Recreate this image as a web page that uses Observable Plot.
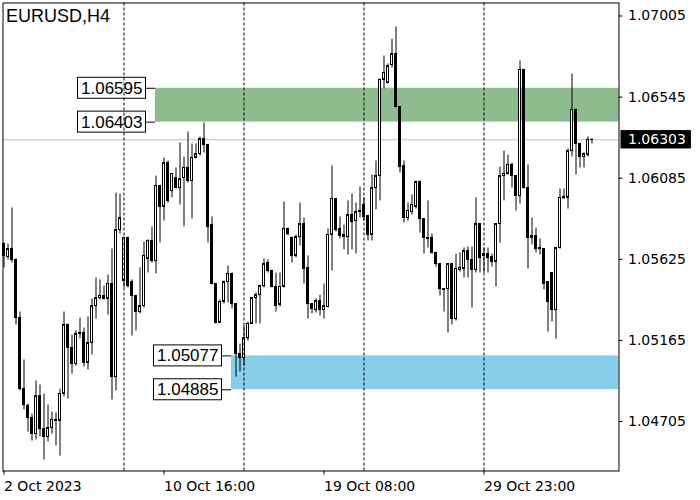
<!DOCTYPE html>
<html><head><meta charset="utf-8">
<script src="https://cdn.jsdelivr.net/npm/d3@7"></script>
<script src="https://cdn.jsdelivr.net/npm/@observablehq/plot@0.6"></script>
<style>html,body{margin:0;padding:0;background:#fff;} svg{display:block}</style>
</head><body><div id="chart"></div>
<script>
const symbol = "EURUSD,H4";
const open = [1.05712,1.05638,1.05683,1.05621,1.05292,1.04889,1.04793,1.04725,1.04634,1.04849,
1.04662,1.04617,1.04668,1.04714,1.04708,1.04861,1.05252,1.05122,1.05031,1.05201,
1.05207,1.05037,1.05150,1.05360,1.05405,1.05417,1.05400,1.05485,1.04957,1.05791,
1.05502,1.05746,1.05496,1.05417,1.05326,1.05360,1.05627,1.05729,1.05615,1.06041,
1.05922,1.06171,1.06012,1.06086,1.06029,1.06086,1.06143,1.06069,1.06200,1.06222,
1.06307,1.06273,1.05819,1.05485,1.05264,1.05383,1.05496,1.05542,1.05371,1.05088,
1.05065,1.05178,1.05258,1.05405,1.05422,1.05473,1.05604,1.05559,1.05468,1.05366,
1.05468,1.05797,1.05746,1.05644,1.05751,1.05825,1.05576,1.05371,1.05337,1.05388,
1.05337,1.05354,1.05763,1.05967,1.05797,1.05763,1.05751,1.05876,1.05842,1.05899,
1.05933,1.05870,1.05763,1.06029,1.06097,1.06642,1.06625,1.06727,1.06789,1.06489,
1.06154,1.05859,1.05893,1.05922,1.06063,1.05853,1.05746,1.05746,1.05661,1.05598,
1.05456,1.05456,1.05598,1.05286,1.05564,1.05570,1.05672,1.05621,1.05564,1.05825,
1.05644,1.05655,1.05638,1.05610,1.05825,1.06097,1.06109,1.06160,1.06097,1.05984,
1.06699,1.06029,1.05757,1.05757,1.05689,1.05683,1.05496,1.05547,1.05337,1.05689,
1.05970,1.05973,1.06239,1.06472,1.06279,1.06205,1.06217,1.06302];
const high = [1.05717,1.05712,1.05916,1.05627,1.05326,1.05054,1.04804,1.04747,1.04935,1.04912,
1.04861,1.04798,1.04759,1.04753,1.04889,1.05326,1.05258,1.05195,1.05218,1.05292,
1.05235,1.05298,1.05400,1.05519,1.05508,1.05473,1.05536,1.05683,1.06001,1.05995,
1.05750,1.05750,1.05508,1.05420,1.05576,1.05723,1.05735,1.05808,1.06097,1.06044,
1.06199,1.06183,1.06112,1.06143,1.06285,1.06205,1.06347,1.06279,1.06279,1.06319,
1.06398,1.06278,1.05865,1.05488,1.05394,1.05502,1.05587,1.05547,1.05374,1.05144,
1.05247,1.05269,1.05409,1.05434,1.05479,1.05627,1.05621,1.05562,1.05547,1.05547,
1.05950,1.05802,1.05751,1.05763,1.05944,1.05859,1.05644,1.05374,1.05400,1.05422,
1.05485,1.05797,1.06154,1.05970,1.05865,1.05819,1.05956,1.05995,1.05944,1.06035,
1.05973,1.05873,1.06103,1.06183,1.06648,1.06778,1.06733,1.06874,1.06943,1.06492,
1.06183,1.05944,1.05990,1.06069,1.06069,1.05856,1.05956,1.05768,1.05664,1.05601,
1.05459,1.05601,1.05601,1.05655,1.05661,1.05689,1.05695,1.05695,1.05973,1.05828,
1.05689,1.05689,1.05655,1.05828,1.06148,1.06239,1.06216,1.06171,1.06100,1.06750,
1.06702,1.06160,1.05859,1.05802,1.05740,1.05686,1.05499,1.05550,1.05692,1.06024,
1.06024,1.06251,1.06676,1.06477,1.06282,1.06228,1.06319,1.06307];
const low = [1.05576,1.05621,1.05604,1.05252,1.04878,1.04770,1.04645,1.04594,1.04600,1.04617,
1.04487,1.04589,1.04634,1.04566,1.04509,1.04844,1.04832,1.04974,1.05020,1.05173,
1.05014,1.04997,1.05082,1.05286,1.05394,1.05394,1.05309,1.04827,1.04878,1.05768,
1.05462,1.05462,1.05190,1.05218,1.05315,1.05349,1.05547,1.05604,1.05542,1.05717,
1.05842,1.05944,1.05973,1.06024,1.05933,1.05808,1.06058,1.05853,1.06194,1.06211,
1.06228,1.05717,1.05479,1.05258,1.05261,1.05371,1.05377,1.05343,1.04957,1.04986,
1.05020,1.05162,1.05255,1.05258,1.05258,1.05462,1.05547,1.05462,1.05326,1.05354,
1.05462,1.05757,1.05604,1.05632,1.05700,1.05485,1.05286,1.05315,1.05320,1.05303,
1.05286,1.05349,1.05559,1.05780,1.05740,1.05678,1.05649,1.05678,1.05655,1.05859,
1.05842,1.05729,1.05729,1.05905,1.05956,1.06591,1.06619,1.06710,1.06483,1.06114,
1.05831,1.05842,1.05876,1.05910,1.05774,1.05655,1.05689,1.05655,1.05581,1.05417,
1.05326,1.05207,1.05252,1.05275,1.05553,1.05519,1.05519,1.05349,1.05547,1.05547,
1.05547,1.05547,1.05581,1.05468,1.05717,1.05956,1.06103,1.06029,1.05899,1.05939,
1.06024,1.05570,1.05706,1.05661,1.05649,1.05451,1.05212,1.05269,1.05173,1.05683,
1.05967,1.05910,1.06205,1.06103,1.06143,1.06143,1.06205,1.06279];
const close = [1.05644,1.05683,1.05621,1.05292,1.04889,1.04798,1.04725,1.04634,1.04849,1.04662,
1.04617,1.04668,1.04714,1.04708,1.04861,1.05252,1.05122,1.05031,1.05201,1.05207,
1.05037,1.05150,1.05360,1.05405,1.05417,1.05400,1.05485,1.04957,1.05791,1.05859,
1.05746,1.05473,1.05417,1.05326,1.05360,1.05644,1.05729,1.05615,1.06041,1.05922,
1.06171,1.05956,1.06109,1.06029,1.06080,1.06143,1.06069,1.06200,1.06222,1.06307,
1.06273,1.05808,1.05485,1.05264,1.05383,1.05496,1.05542,1.05371,1.05088,1.05065,
1.05178,1.05258,1.05405,1.05422,1.05473,1.05598,1.05559,1.05468,1.05360,1.05468,
1.05797,1.05768,1.05644,1.05751,1.05825,1.05570,1.05371,1.05343,1.05388,1.05337,
1.05360,1.05763,1.05967,1.05791,1.05757,1.05751,1.05876,1.05836,1.05893,1.05893,
1.05865,1.05763,1.06029,1.06097,1.06642,1.06682,1.06721,1.06789,1.06489,1.06148,
1.05859,1.05899,1.05933,1.06063,1.05853,1.05746,1.05740,1.05661,1.05598,1.05456,
1.05451,1.05598,1.05286,1.05570,1.05576,1.05672,1.05621,1.05564,1.05825,1.05632,
1.05655,1.05632,1.05610,1.05825,1.06097,1.06109,1.06160,1.06097,1.05984,1.06699,
1.06029,1.05746,1.05746,1.05683,1.05683,1.05485,1.05383,1.05337,1.05689,1.05973,
1.05979,1.06239,1.06472,1.06279,1.06205,1.06222,1.06302,1.06303];

const timeTickBars = [0, 40, 80, 120];
const timeTickLabels = ["2 Oct 2023", "10 Oct 16:00", "19 Oct 08:00", "29 Oct 23:00"];
const weekStartBars = [30, 60, 90, 120];
const priceTicks = [1.07005, 1.06545, 1.06085, 1.05625, 1.05165, 1.04705];
const bid = 1.06303;
const zoneTop = [1.06595, 1.05077];
const zoneBottom = [1.06403, 1.04885];
const zoneStartBar = [38, 57];
const zoneColor = ["#8fbc8f", "#87ceeb"];

// layout
const xMin = -0.25, xMax = 153.75;          // 4 px per bar
const yMin = 1.044242, yMax = 1.070787;     // visible price range
const PXY = 17630.5;                        // px per price unit
const py = px => px / PXY;

const bars = open.map((o, i) => ({i, o, h: high[i], l: low[i], c: close[i]}));
const zones = zoneTop.map((t, k) => ({top: t, bottom: zoneBottom[k], start: zoneStartBar[k], color: zoneColor[k]}));
const zoneLabels = zones.flatMap(z => [{v: z.top, start: z.start}, {v: z.bottom, start: z.start}]);

const chart = Plot.plot({
  width: 700, height: 500,
  marginLeft: 2.5, marginRight: 81.5, marginTop: 2.5, marginBottom: 29.5,
  x: {domain: [xMin, xMax], axis: null},
  y: {domain: [yMin, yMax], axis: null},
  style: {fontFamily: "DejaVu Sans", background: "white", overflow: "visible"},
  marks: [
    Plot.rect(zones, {x1: d => d.start - 0.125, x2: xMax, y1: "bottom", y2: "top", fill: d => d.color}),
    Plot.ruleY([bid], {stroke: "#c0c0c0"}),
    Plot.ruleX(bars, {x: "i", y1: "l", y2: "h", stroke: "black"}),
    Plot.rect(bars, {filter: d => d.c >= d.o, x1: d => d.i - 0.25, x2: d => d.i + 0.25, y1: "o", y2: "c", fill: "white", stroke: "black"}),
    Plot.rect(bars, {filter: d => d.c < d.o, x1: d => d.i - 0.25, x2: d => d.i + 0.25, y1: "o", y2: "c", fill: "black", stroke: "black"}),
    Plot.ruleY(zoneLabels, {y: "v", x1: d => d.start - 2.5, x2: d => d.start - 0.125, stroke: "black"}),
    Plot.rect(zoneLabels, {x1: d => d.start - 19.5, x2: d => d.start - 2.5, y1: d => d.v - py(10.5), y2: d => d.v + py(10.5), fill: "white", stroke: "black"}),
    Plot.text(zoneLabels, {x: d => d.start - 19.5, y: "v", dx: 3, text: d => d.v.toFixed(5), textAnchor: "start", fontSize: 17, fontFamily: "Liberation Sans", fill: "black"}),
    Plot.ruleX(weekStartBars, {stroke: "black", strokeDasharray: "3,2"}),
    Plot.frame({stroke: "black"}),
    Plot.ruleY(priceTicks, {x1: xMax, x2: xMax + 1, stroke: "black"}),
    Plot.text(priceTicks, {x: xMax, y: d => d, dx: 9, text: d => d.toFixed(5), textAnchor: "start", fontSize: 14, fill: "black"}),
    Plot.rect([bid], {x1: xMax + 0.5, x2: xMax + 18.1, y1: d => d - py(9.2), y2: d => d + py(9.2), fill: "black"}),
    Plot.text([bid], {x: xMax, y: d => d, dx: 9, text: d => d.toFixed(5), textAnchor: "start", fontSize: 14, fill: "white"}),
    Plot.ruleX(timeTickBars, {y1: yMin, y2: yMin - py(4), stroke: "black"}),
    Plot.text(timeTickBars, {x: d => d, y: yMin, dy: 16, text: (d, k) => timeTickLabels[k], textAnchor: "start", fontSize: 14, fill: "black"}),
    Plot.text([symbol], {x: xMin, y: yMax, dx: 3, dy: 13, text: d => d, textAnchor: "start", fontSize: 18, fontFamily: "Liberation Sans", fill: "black"})
  ]
});
document.getElementById("chart").appendChild(chart);
</script>
</body></html>
